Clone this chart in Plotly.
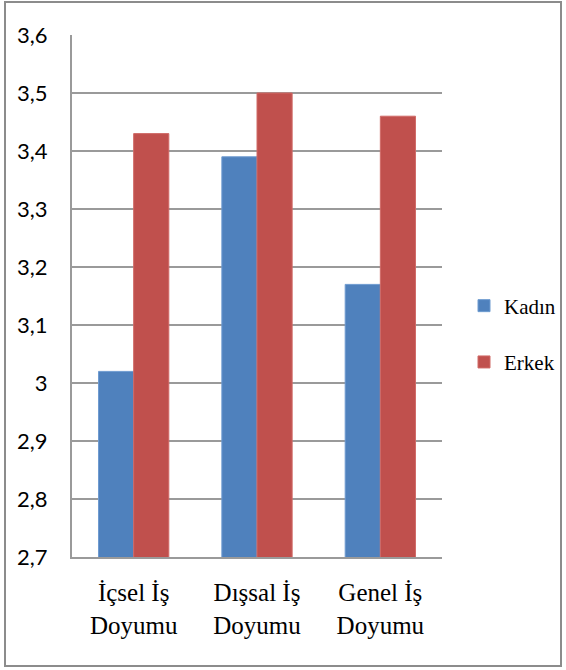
import plotly.graph_objects as go

categories = ["İçsel İş<br>Doyumu", "Dışsal İş<br>Doyumu", "Genel İş<br>Doyumu"]
kadin = [3.02, 3.39, 3.17]
erkek = [3.43, 3.50, 3.46]
series_names = ["Kadın", "Erkek"]
y_ticks = [2.7, 2.8, 2.9, 3.0, 3.1, 3.2, 3.3, 3.4, 3.5, 3.6]

W, H = 566, 670
L, R, T, B = 72, 124, 35, 113
SERIF = "Liberation Serif, Times New Roman, DejaVu Serif, serif"

fig = go.Figure()
fig.add_trace(go.Bar(
    x=categories, y=kadin, name=series_names[0], legendgroup="k",
    marker=dict(color="#4F81BD", line=dict(color="#6E9BD0", width=1)),
))
fig.add_trace(go.Bar(
    x=categories, y=erkek, name=series_names[1], legendgroup="e",
    marker=dict(color="#C0504D", line=dict(color="#D06A67", width=1)),
))

pw, ph = W - L - R, H - T - B


def px_x(v):
    return (v - L) / pw


def px_y(v):
    return (H - B - v) / ph


fig.update_layout(
    width=W, height=H,
    margin=dict(l=L, r=R, t=T, b=B, autoexpand=False),
    paper_bgcolor="white", plot_bgcolor="white",
    separators=",.",
    barmode="group", bargap=0.43, bargroupgap=0,
    showlegend=True,
    legend=dict(
        x=px_x(464), y=px_y(334), xanchor="left", yanchor="middle",
        font=dict(family=SERIF, size=21, color="#000000"),
        tracegroupgap=26, itemwidth=30,
        bgcolor="rgba(0,0,0,0)",
    ),
    xaxis=dict(
        showline=True, linecolor="#9A9A9A", linewidth=2,
        showgrid=False, ticks="", ticklabelstandoff=12,
        tickfont=dict(family=SERIF, size=25, color="#000000"),
    ),
    yaxis=dict(
        range=[2.7, 3.6], tickvals=y_ticks,
        showline=True, linecolor="#9A9A9A", linewidth=2,
        showgrid=True, gridcolor="#9A9A9A", gridwidth=2,
        zeroline=False, ticks="", ticklabelstandoff=18,
        tickfont=dict(family="Lato", size=22, color="#000000"),
    ),
    shapes=[dict(
        type="rect", xref="paper", yref="paper",
        x0=px_x(5), x1=px_x(561), y0=px_y(666), y1=px_y(2),
        line=dict(color="#8C8C8C", width=2), layer="below",
    )],
)

fig.write_html("out.html")
